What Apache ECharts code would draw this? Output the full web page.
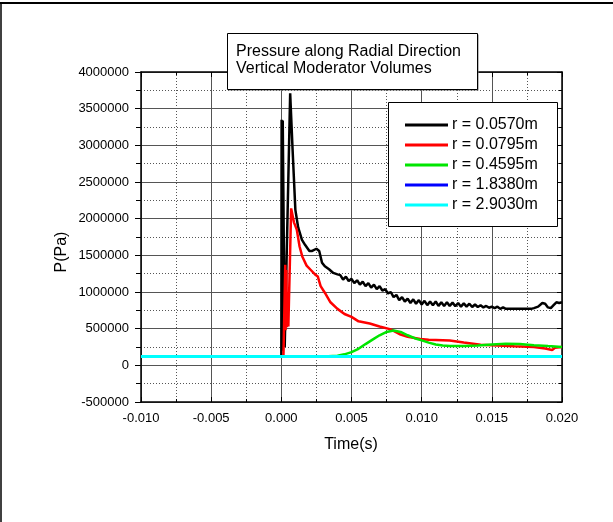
<!DOCTYPE html>
<html><head><meta charset="utf-8">
<script src="https://cdn.jsdelivr.net/npm/echarts@6/dist/echarts.min.js"></script>
<style>html,body{margin:0;padding:0;background:#fff}#c{width:613px;height:522px}</style>
</head><body><div id="c"></div><script>
// ---- data ----
const seriesNames = ['r = 0.0570m','r = 0.0795m','r = 0.4595m','r = 1.8380m','r = 2.9030m'];
const seriesColors = ['#000000','#ff0000','#00e600','#0000ff','#00ffff'];
const xTicks = [-0.010,-0.005,0.000,0.005,0.010,0.015,0.020];
const yTicks = [-500000,0,500000,1000000,1500000,2000000,2500000,3000000,3500000,4000000];

const r0570 = [
[-0.01,120000],[0.0,120000],[0.00002,3350000],[0.00006,200000],[0.0001,3340000],[0.00024,250000],[0.00063,3710000],
[0.0008,2950000],[0.001,2120000],[0.0012,1880000],[0.00147,1710000],[0.0017,1640000],[0.002,1560000],
[0.0022,1560000],[0.0025,1590000],[0.0027,1560000],[0.0029,1400000],[0.0031,1350000],[0.0034,1310000],
[0.0037,1260000],[0.004,1240000],
[0.0042,1230000],[0.0044,1170000],[0.0046,1210000],[0.0048,1150000],[0.005,1180000],[0.0052,1120000],
[0.0054,1160000],[0.0056,1100000],[0.0058,1140000],[0.006,1080000],[0.0062,1120000],[0.0064,1060000],
[0.0066,1100000],[0.0068,1040000],[0.007,1080000],[0.0072,1020000],[0.0074,1040000],[0.0076,980000],
[0.0078,1000000],[0.008,930000],[0.0082,960000],[0.0084,890000],[0.0086,930000],[0.0088,870000],
[0.009,910000],[0.0092,850000],[0.0094,900000],[0.0096,840000],[0.0098,890000],[0.01,830000],
[0.0102,880000],[0.0104,820000],[0.0106,870000],[0.0108,820000],[0.011,870000],[0.0112,810000],
[0.0114,860000],[0.0116,810000],[0.0118,860000],[0.012,810000],[0.0122,855000],[0.0124,805000],
[0.0126,850000],[0.0128,800000],[0.013,845000],[0.0132,800000],[0.0134,840000],[0.0136,795000],
[0.0138,830000],[0.014,795000],[0.0142,820000],[0.0144,790000],[0.0146,810000],[0.0148,785000],
[0.015,800000],[0.0152,780000],[0.0154,800000],[0.0156,770000],[0.0158,790000],[0.016,770000],
[0.017,770000],[0.0178,770000],[0.018,780000],[0.0183,800000],[0.0186,850000],[0.0188,840000],
[0.019,790000],[0.0192,780000],[0.0194,820000],[0.0196,860000],[0.0198,850000],[0.02,860000]
];
const r0795 = [
[-0.01,120000],[0.00015,120000],[0.00028,1370000],[0.0003,480000],[0.00036,1300000],[0.0004,520000],
[0.00046,1000000],[0.0005,530000],[0.0007,2140000],[0.0009,1950000],[0.0011,1850000],[0.0013,1620000],
[0.0015,1480000],[0.0018,1360000],[0.0021,1300000],[0.0024,1240000],[0.0026,1210000],[0.0028,1080000],
[0.0031,990000],[0.0035,860000],[0.004,770000],[0.0045,700000],[0.005,660000],[0.0055,600000],
[0.0063,570000],[0.007,530000],[0.0078,490000],[0.0085,420000],[0.009,390000],[0.0099,360000],
[0.0105,350000],[0.012,340000],[0.013,310000],[0.0142,280000],[0.015,275000],[0.0166,260000],
[0.018,250000],[0.0188,230000],[0.0193,210000],[0.0195,240000],[0.02,250000]
];
const r4595 = [
[-0.01,120000],[0.003,120000],[0.004,130000],[0.0045,150000],[0.005,180000],[0.0055,225000],
[0.006,290000],[0.0065,350000],[0.007,410000],[0.0075,455000],[0.008,475000],[0.0085,455000],
[0.009,410000],[0.0095,370000],[0.01,340000],[0.0105,310000],[0.011,285000],[0.0115,270000],
[0.012,262000],[0.013,262000],[0.014,272000],[0.015,285000],[0.016,295000],[0.017,290000],
[0.018,275000],[0.019,262000],[0.02,250000]
];
const r18380 = [[-0.01,120000],[0.0,120000],[0.01,120000],[0.02,120000]];
const r29030 = [[-0.01,120000],[0.0,120000],[0.01,120000],[0.02,120000]];
const seriesData = [r0570, r0795, r4595, r18380, r29030];
const lineWidths = [2.5, 2.5, 2.5, 3, 3];

// ---- chart ----
const chart = echarts.init(document.getElementById('c'), null, {renderer:'canvas'});
const FONT = '"Liberation Sans", Arial, sans-serif';
const gridL = 141, gridR = 51, gridT = 72, gridB = 120;

function axisCommon(extra){
  return Object.assign({
    type:'value',
    axisLine:{show:true,onZero:false,lineStyle:{color:'#000',width:1.5}},
    splitLine:{show:false},
    minorSplitLine:{show:false}
  }, extra);
}

const legendGraphics = [];
const legX = 388, legY = 102, legW = 169, legH = 124;
legendGraphics.push({type:'rect', z:100, shape:{x:legX+0.5,y:legY+0.5,width:legW,height:legH},
  style:{fill:'#fff',stroke:'#000',lineWidth:1}});
seriesNames.forEach((n,i)=>{
  const yy = 125 + 20*i;
  legendGraphics.push({type:'line', z:101, shape:{x1:405,y1:yy,x2:448,y2:yy},
    style:{stroke:seriesColors[i],lineWidth:3}});
  legendGraphics.push({type:'text', z:101, x:452, y:yy,
    style:{text:n,font:'16px '+FONT,fill:'#000',align:'left',verticalAlign:'middle'}});
});

const option = {
  animation:false,
  backgroundColor:'#fff',
  grid:{left:gridL,right:gridR,top:gridT,bottom:gridB,containLabel:false},
  xAxis:[
    axisCommon({position:'bottom', min:-0.01, max:0.02, interval:0.005,
      axisTick:{show:true,inside:true,length:5,lineStyle:{color:'#000'}},
      minorTick:{show:true,splitNumber:2,length:3,lineStyle:{color:'#000'}},
      axisLabel:{fontSize:13,fontFamily:FONT,color:'#000',margin:10,
        formatter:v=>Math.abs(v)<1e-9?'0.000':v.toFixed(3)},
      splitLine:{show:true,lineStyle:{color:'#555',width:1}},
      minorSplitLine:{show:true,lineStyle:{color:'#555',width:1,type:[1,2]}}
    }),
    axisCommon({position:'top', min:-0.01, max:0.02, interval:0.005,
      axisTick:{show:true,inside:true,length:5,lineStyle:{color:'#000'}},
      minorTick:{show:true,splitNumber:2,length:3,lineStyle:{color:'#000'}},
      axisLabel:{show:false}})
  ],
  yAxis:[
    axisCommon({position:'left', min:-500000, max:4000000, interval:500000,
      axisTick:{show:true,inside:false,length:6,lineStyle:{color:'#000'}},
      minorTick:{show:true,splitNumber:2,length:5,lineStyle:{color:'#000'}},
      axisLabel:{fontSize:13,fontFamily:FONT,color:'#000',margin:12,
        formatter:v=>String(Math.round(v))},
      splitLine:{show:true,lineStyle:{color:'#555',width:1}},
      minorSplitLine:{show:true,lineStyle:{color:'#555',width:1,type:[1,2]}}
    }),
    axisCommon({position:'right', min:-500000, max:4000000, interval:500000,
      axisTick:{show:true,inside:true,length:5,lineStyle:{color:'#000'}},
      minorTick:{show:true,splitNumber:2,length:3,lineStyle:{color:'#000'}},
      axisLabel:{show:false}})
  ],
  series: seriesData.map((d,i)=>({
    name:seriesNames[i], type:'line', data:d, xAxisIndex:0, yAxisIndex:0,
    showSymbol:false, symbol:'none', smooth:false, clip:true,
    lineStyle:{color:seriesColors[i],width:lineWidths[i]},
    itemStyle:{color:seriesColors[i]}, z:2+i
  })),
  graphic:[
    {type:'line', z:100, shape:{x1:0,y1:3,x2:613,y2:3}, style:{stroke:'#000',lineWidth:2}},
    {type:'line', z:100, shape:{x1:1,y1:2,x2:1,y2:522}, style:{stroke:'#000',lineWidth:1.5}},
    {type:'rect', z:99, shape:{x:228.5,y:34.5,width:250,height:56}, style:{fill:'#777',stroke:null}},
    {type:'rect', z:100, shape:{x:227.5,y:33.5,width:250,height:56}, style:{fill:'#fff',stroke:'#000',lineWidth:1}},
    {type:'text', z:101, x:236, y:52, style:{text:'Pressure along Radial Direction',font:'16px '+FONT,fill:'#000',align:'left',verticalAlign:'middle'}},
    {type:'text', z:101, x:236, y:69, style:{text:'Vertical Moderator Volumes',font:'16px '+FONT,fill:'#000',align:'left',verticalAlign:'middle'}},
    {type:'text', z:101, x:351, y:445, style:{text:'Time(s)',font:'16px '+FONT,fill:'#000',align:'center',verticalAlign:'middle'}},
    {type:'text', z:101, x:62, y:252, rotation:Math.PI/2, style:{text:'P(Pa)',font:'16px '+FONT,fill:'#000',align:'center',verticalAlign:'middle'}}
  ].concat(legendGraphics)
};
chart.setOption(option);
</script></body></html>
